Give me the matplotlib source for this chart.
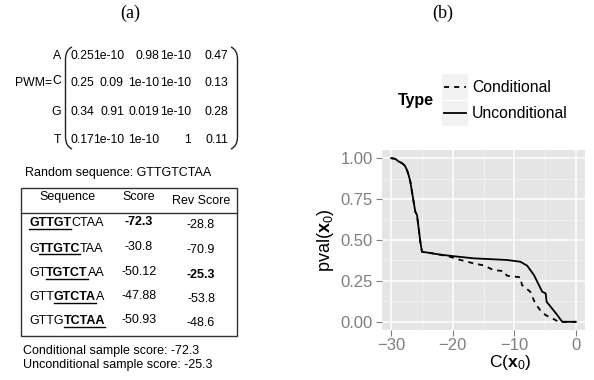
import numpy as np
import matplotlib
matplotlib.use("Agg")
import matplotlib.pyplot as plt
from matplotlib.patches import Rectangle, PathPatch
from matplotlib.path import Path
from matplotlib.ticker import FormatStrFormatter

plt.rcParams["font.family"] = ["Liberation Sans", "DejaVu Sans"]
plt.rcParams["mathtext.fontset"] = "custom"
plt.rcParams["mathtext.rm"] = "Liberation Sans"
plt.rcParams["mathtext.bf"] = "Liberation Sans:bold"
plt.rcParams["mathtext.it"] = "Liberation Sans:italic"

# ---- panel (a) data ----
pwm_rows = ["A", "C", "G", "T"]
pwm_vals = [
    ["0.25", "1e-10", "0.98", "1e-10", "0.47"],
    ["0.25", "0.09", "1e-10", "1e-10", "0.13"],
    ["0.34", "0.91", "0.019", "1e-10", "0.28"],
    ["0.17", "1e-10", "1e-10", "1", "0.11"],
]
random_seq = "GTTGTCTAA"
# (prefix, motif, suffix) of each window
seq_parts = [
    ("", "GTTGT", "CTAA"),
    ("G", "TTGTC", "TAA"),
    ("GT", "TGTCT", "AA"),
    ("GTT", "GTCTA", "A"),
    ("GTTG", "TCTAA", ""),
]
scores = ["-72.3", "-30.8", "-50.12", "-47.88", "-50.93"]
rev_scores = ["-28.8", "-70.9", "-25.3", "-53.8", "-48.6"]
best_score = 0
best_rev = 2
cond_score = "-72.3"
uncond_score = "-25.3"

# ---- panel (b) data ----
uncond_x = [-30, -29.35, -28.8, -28.26, -27.8, -27.44, -27.18, -26.9, -26.63,
            -26.36, -26.09, -25.81, -25.54, -25.27, -25.0, -23.9, -22.3, -20.1,
            -16.6, -11.2, -9.0, -7.9, -6.8, -6.0, -5.46, -4.9, -4.73, -4.08,
            -3.0, -2.2, 0]
uncond_y = [1.0, 0.996, 0.98, 0.97, 0.955, 0.928, 0.898, 0.857, 0.796,
            0.734, 0.673, 0.653, 0.571, 0.49, 0.428, 0.422, 0.412, 0.402,
            0.388, 0.378, 0.367, 0.343, 0.286, 0.225, 0.184, 0.174, 0.122, 0.092,
            0.041, 0.0, 0.0]
cond_x = [-30, -29.35, -28.8, -28.26, -27.8, -27.44, -27.18, -26.9, -26.63,
          -26.36, -26.09, -25.81, -25.54, -25.27, -25.0, -23.9, -22.3, -20.5,
          -18.75, -16.6, -15.0, -13.35, -11.7, -11.2, -9.0, -8.75, -7.4, -6.6,
          -5.8, -4.9, -3.6, -2.8, 0]
cond_y = [1.0, 0.996, 0.98, 0.97, 0.955, 0.928, 0.898, 0.857, 0.796,
          0.734, 0.673, 0.653, 0.571, 0.49, 0.428, 0.422, 0.412, 0.398,
          0.378, 0.357, 0.345, 0.316, 0.31, 0.282, 0.272, 0.225, 0.184, 0.113,
          0.072, 0.041, 0.017, 0.0, 0.0]

W, H = 594, 380
fig = plt.figure(figsize=(W / 100, H / 100), dpi=100)

# overlay in pixel coordinates (y down)
ov = fig.add_axes([0, 0, 1, 1])
ov.set_xlim(0, W)
ov.set_ylim(H, 0)
ov.axis("off")
renderer = fig.canvas.get_renderer()

ov.text(130, 13, "(a)", family="Liberation Serif", fontsize=13, ha="center", va="center")
ov.text(443, 13, "(b)", family="Liberation Serif", fontsize=13, ha="center", va="center")

# matrix
mfs = 8.8
col_right = [94, 124, 159, 191, 228]
row_y = [56, 83, 112, 140]
ov.text(52, 83, "PWM=", fontsize=mfs, ha="right", va="center")
for i, lab in enumerate(pwm_rows):
    ov.text(61, row_y[i] - (2 if lab == "C" else 0), lab, fontsize=mfs, ha="right", va="center")
    for j, v in enumerate(pwm_vals[i]):
        ov.text(col_right[j], row_y[i], v, fontsize=mfs, ha="right", va="center")


def paren(x_in, x_out, y0, y1):
    verts = [(x_in, y0), (x_out, y0 + 3), (x_out, y0 + 12), (x_out, y1 - 12),
             (x_out, y1 - 3), (x_in, y1)]
    codes = [Path.MOVETO, Path.CURVE3, Path.CURVE3, Path.LINETO, Path.CURVE3, Path.CURVE3]
    ov.add_patch(PathPatch(Path(verts, codes), fill=False, ec="#222222", lw=1.0))


paren(72, 65.5, 47, 149)
paren(231, 237.5, 47, 149)

fs = 9
ov.text(25, 173, "Random sequence: " + random_seq, fontsize=fs, va="center")

# table
ov.add_patch(Rectangle((21, 187.5), 216, 148, fill=False, ec="#333333", lw=1.0))
ov.plot([21, 237], [212.5, 212.5], color="#333333", lw=1.0)
ov.text(67, 197, "Sequence", fontsize=fs, ha="center", va="center")
ov.text(139, 197, "Score", fontsize=fs, ha="center", va="center")
ov.text(201, 201, "Rev Score", fontsize=fs, ha="center", va="center")

tab_y = [222, 247, 272, 296, 320]
for i, (pre, mid, post) in enumerate(seq_parts):
    base = tab_y[i] + 4.5
    x = 29
    for k, piece in enumerate((pre, mid, post)):
        if not piece:
            continue
        t = ov.text(x, base, piece, fontsize=fs, va="baseline",
                    fontweight="bold" if k == 1 else "normal")
        w = t.get_window_extent(renderer).width
        if k == 1:
            ov.plot([x, x + w], [base + 2, base + 2], color="black", lw=1.0)
        x += w
    ov.text(139, tab_y[i], scores[i], fontsize=fs, ha="center", va="center",
            fontweight="bold" if i == best_score else "normal")
    ov.text(201, tab_y[i] + 3, rev_scores[i], fontsize=fs, ha="center", va="center",
            fontweight="bold" if i == best_rev else "normal")

ov.text(23, 351, "Conditional sample score: " + cond_score, fontsize=fs, va="center")
ov.text(23, 365, "Unconditional sample score: " + uncond_score, fontsize=fs, va="center")

# legend
ov.text(398, 101, "Type", fontsize=11.5, fontweight="bold", va="center")
ov.add_patch(Rectangle((442, 74), 26, 25.5, fc="#F2F2F2", ec="none"))
ov.add_patch(Rectangle((442, 100.5), 26, 25.5, fc="#F2F2F2", ec="none"))
ov.plot([444, 466], [87, 87], color="black", lw=1.3, linestyle=(0, (2.8, 2.8)))
ov.plot([444, 466], [113, 113], color="black", lw=1.3)
ov.text(472, 87, "Conditional", fontsize=11.3, va="center")
ov.text(472, 113, "Unconditional", fontsize=11.3, va="center")

# panel (b)
ax = fig.add_axes([382 / W, 50 / H, 203 / W, 180 / H])
ax.set_facecolor("#E5E5E5")
for s in ax.spines.values():
    s.set_visible(False)
ax.set_xlim(-31.5, 1.5)
ax.set_ylim(-0.05, 1.05)
ax.set_xticks([-30, -20, -10, 0])
ax.set_xticks([-25, -15, -5], minor=True)
ax.set_yticks([0, 0.25, 0.5, 0.75, 1.0])
ax.set_yticks([0.125, 0.375, 0.625, 0.875], minor=True)
ax.yaxis.set_major_formatter(FormatStrFormatter("%.2f"))
ax.grid(which="major", color="white", lw=1.1)
ax.grid(which="minor", color="#F2F2F2", lw=0.6)
ax.set_axisbelow(True)
ax.tick_params(which="major", length=4, width=0.8, color="#7F7F7F",
               labelcolor="#7F7F7F", labelsize=12, pad=1.5)
ax.tick_params(axis="y", which="major", pad=2.5)
ax.tick_params(which="minor", length=0)

ax.plot(cond_x, cond_y, color="black", lw=1.3, linestyle=(0, (2.8, 2.8)))
ax.plot(uncond_x, uncond_y, color="black", lw=1.3)

ax.set_xlabel(r"C($\mathbf{x}_0$)", fontsize=12.5)
ax.xaxis.set_label_coords((510 - 382) / 203, -23.5 / 180)
ax.set_ylabel(r"pval($\mathbf{x}_0$)", fontsize=13, labelpad=3)

fig.savefig("out.png", dpi=100)
